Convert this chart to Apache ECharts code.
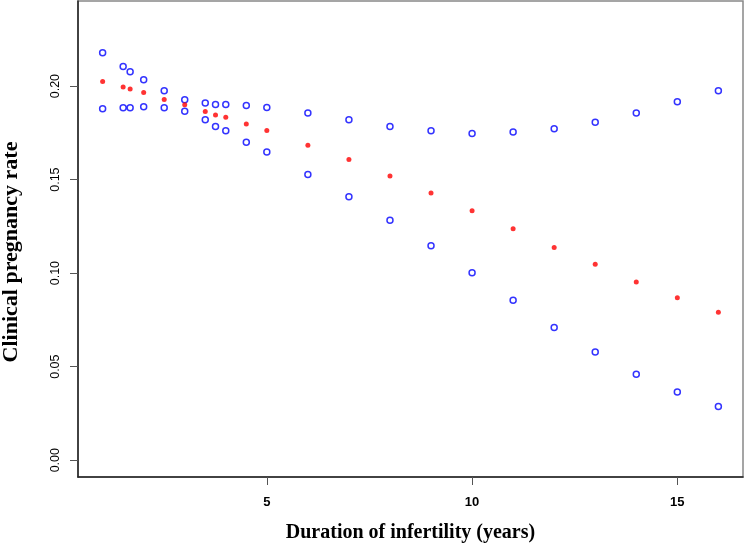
<!DOCTYPE html>
<html>
<head>
<meta charset="utf-8">
<script src="https://cdn.jsdelivr.net/npm/echarts@6/dist/echarts.min.js"></script>
<style>html,body{margin:0;padding:0;background:#fff}#c{width:744px;height:545px}</style>
</head>
<body>
<div id="c"></div>
<script>
var years = [1, 1.5, 1.67, 2, 2.5, 3, 3.5, 3.75, 4, 4.5, 5, 6, 7, 8, 9, 10, 11, 12, 13, 14, 15, 16];
var estimate = [0.2025, 0.1995, 0.1984, 0.1966, 0.1928, 0.1900, 0.1864, 0.1845, 0.1834, 0.1798, 0.1763, 0.1684, 0.1608, 0.1519, 0.1429, 0.1333, 0.1237, 0.1137, 0.1048, 0.0952, 0.0868, 0.0791];
var upper = [0.2178, 0.2105, 0.2077, 0.2034, 0.1975, 0.1927, 0.1909, 0.1902, 0.1902, 0.1896, 0.1886, 0.1856, 0.1820, 0.1784, 0.1761, 0.1747, 0.1754, 0.1772, 0.1807, 0.1856, 0.1916, 0.1975];
var lower = [0.1879, 0.1884, 0.1884, 0.1889, 0.1884, 0.1866, 0.1820, 0.1784, 0.1761, 0.1700, 0.1647, 0.1527, 0.1408, 0.1283, 0.1146, 0.1002, 0.0855, 0.0709, 0.0578, 0.0460, 0.0364, 0.0287];
var xTicks = [5, 10, 15];
var yTicks = [0.00, 0.05, 0.10, 0.15, 0.20];

function pairs(ys){ return years.map(function(x,i){ return [x, ys[i]]; }); }

var chart = echarts.init(document.getElementById('c'), null, {renderer:'canvas'});
var serif = '"Liberation Serif", "Times New Roman", serif';
var sans = '"Liberation Sans", Arial, sans-serif';
chart.setOption({
  animation: false,
  backgroundColor: '#ffffff',
  grid: {left: 78, right: 1, top: 1, bottom: 68, show: true, borderColor: '#888', borderWidth: 1.5,
    containLabel: false, outerBoundsMode: 'none'},
  xAxis: {
    type: 'value', min: 0.4, max: 16.6,
    name: 'Duration of infertility (years)', nameLocation: 'middle', nameGap: 46,
    nameTextStyle: {fontFamily: serif, fontWeight: 'bold', fontSize: 20, color: '#000'},
    axisLine: {show: true, onZero: false, lineStyle: {color: '#222', width: 1.5}},
    axisTick: {show: true, length: 8, customValues: xTicks, lineStyle: {color: '#555'}},
    axisLabel: {customValues: xTicks, margin: 19, fontFamily: sans, fontWeight: 'bold', fontSize: 13, color: '#000',
      formatter: function(v){ return String(v); }},
    splitLine: {show: false}
  },
  yAxis: {
    type: 'value', min: -0.009, max: 0.2455,
    name: 'Clinical pregnancy rate', nameLocation: 'middle', nameGap: 56, nameRotate: 90,
    nameTextStyle: {fontFamily: serif, fontWeight: 'bold', fontSize: 22, color: '#000', padding: [0, 26, 0, 0]},
    axisLine: {show: true, onZero: false, lineStyle: {color: '#222', width: 1.5}},
    axisTick: {show: true, length: 8, customValues: yTicks, lineStyle: {color: '#555'}},
    axisLabel: {customValues: yTicks, rotate: 90, margin: 16, fontFamily: sans, fontSize: 12.5, color: '#000',
      formatter: function(v){ return v.toFixed(2); }},
    splitLine: {show: false}
  },
  series: [
    {type: 'scatter', name: 'upper', data: pairs(upper), symbol: 'circle', symbolSize: 6,
      itemStyle: {color: 'rgba(255,255,255,0)', borderColor: '#0000ff', borderWidth: 1.5}},
    {type: 'scatter', name: 'lower', data: pairs(lower), symbol: 'circle', symbolSize: 6,
      itemStyle: {color: 'rgba(255,255,255,0)', borderColor: '#0000ff', borderWidth: 1.5}},
    {type: 'scatter', name: 'estimate', data: pairs(estimate), symbol: 'circle', symbolSize: 5,
      itemStyle: {color: '#ff0000'}}
  ]
});
</script>
</body>
</html>
